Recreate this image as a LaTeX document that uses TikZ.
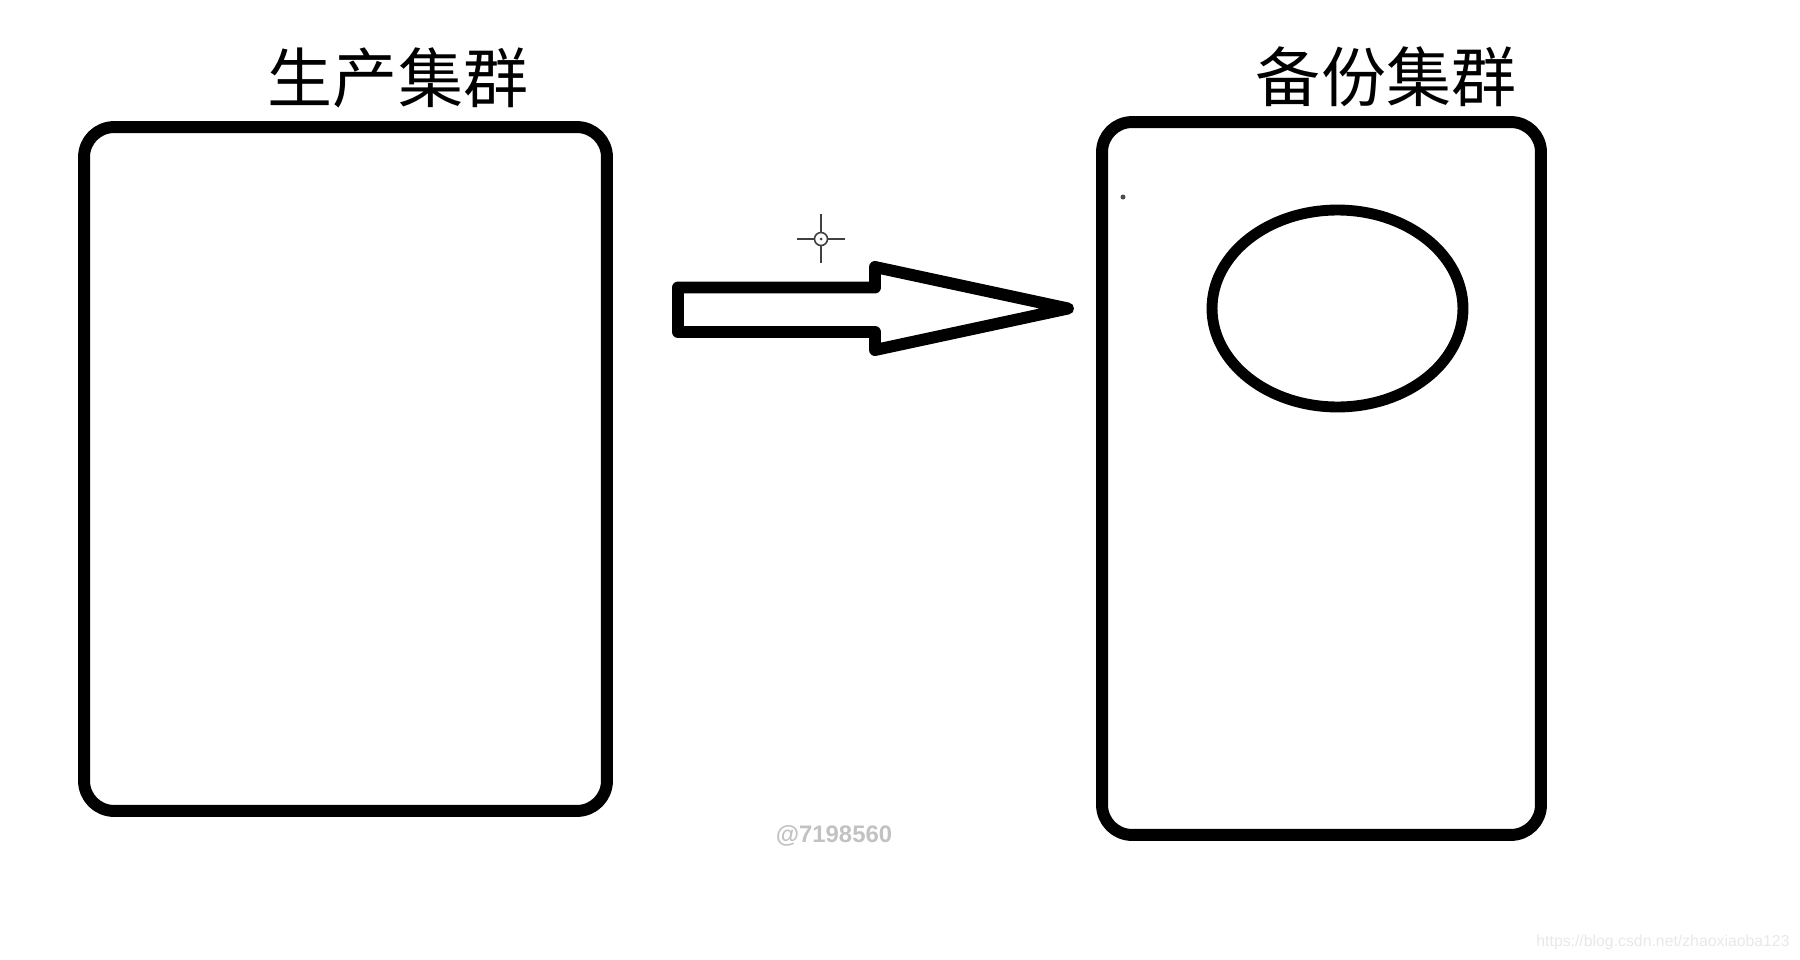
\documentclass[tikz,border=0pt]{standalone}
\usepackage{fontspec}
\setsansfont{Liberation Sans}
\newfontfamily\cjkfont{Noto Sans CJK SC}
\usetikzlibrary{shapes.geometric}

\tikzset{
  bk cluster/.style={rectangle, draw=black, rounded corners=0.6cm, line width=6.8pt, inner sep=0pt},
  bk title/.style={font=\cjkfont\fontsize{37}{40}\selectfont, inner sep=0pt},
  bk store/.style={ellipse, draw=black, line width=6.2pt, inner sep=0pt},
  bk shift/.style={draw=black, line width=6.8pt, line join=round},
  bk aim/.style={draw=black!75, line width=0.9pt},
  bk stamp/.style={font=\sffamily\bfseries\fontsize{13.6}{16}\selectfont, text=black!24, inner sep=0pt},
  bk url/.style={font=\sffamily\fontsize{9}{11}\selectfont, text=black!9, inner sep=0pt},
}

\begin{document}
\begin{tikzpicture}[x=0.02cm, y=-0.02cm]
    \useasboundingbox (0,0) rectangle (1800,960);
    \node (prod) [bk cluster, minimum width=10.46cm, minimum height=13.68cm] at (345.5,469) {};
    \node (backup) [bk cluster, minimum width=8.78cm, minimum height=14.26cm] at (1321.5,478.5) {};
    \node (prodtitle) [bk title] at (398,78) {生产集群};
    \node (backuptitle) [bk title] at (1386,77) {备份集群};
    \node (store) [bk store, minimum width=5.02cm, minimum height=3.94cm] at (1337.5,308.5) {};
    % block arrow between the clusters
    \draw[bk shift] (678,287.5) -- (875,287.5) -- (875,267) -- (1068,308.5)
      -- (875,350) -- (875,332) -- (678,332) -- cycle;
    % cursor mark
    \coordinate (aim) at (821,239);
    \draw[bk aim] (797,239) -- (845,239) (821,214) -- (821,263);
    \draw[bk aim, fill=white] (aim) circle (0.13cm);
    \fill[black!75] (aim) circle (0.03cm);
    \fill[black!70] (1123,197) circle (0.05cm);
    \node (stamp) [bk stamp] at (834,836) {@7198560};
    \node (url) [bk url] at (1663,942) {https://blog.csdn.net/zhaoxiaoba123};
\end{tikzpicture}
\end{document}
